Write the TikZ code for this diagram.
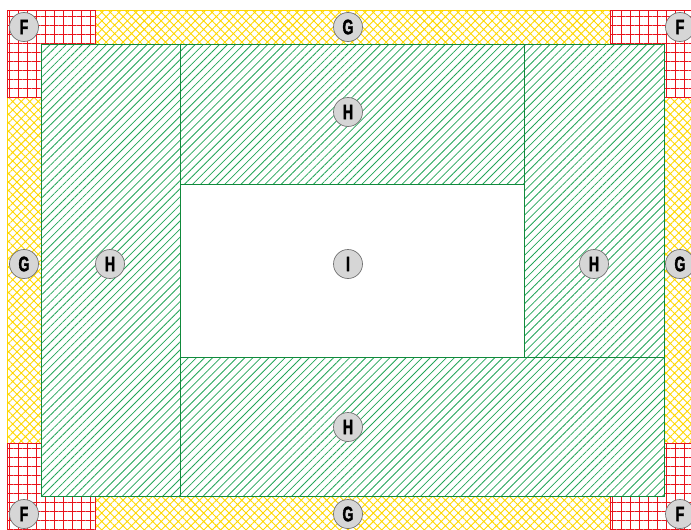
\documentclass[tikz,border=0pt]{standalone}
\usepackage{fontspec}
\newfontfamily\labfont[FakeStretch=0.68,BoldFont={Liberation Sans Bold},BoldFeatures={FakeStretch=0.68,FakeBold=1.5}]{Liberation Sans}
\usetikzlibrary{patterns.meta}
\definecolor{gline}{HTML}{22A458}
\definecolor{gedge}{HTML}{118A3C}
\definecolor{yline}{HTML}{FFD700}
\definecolor{rline}{HTML}{E8131B}
\tikzset{
  redarea/.style={draw=rline, line width=0.8pt, pattern={Hatch[angle=0,distance=9pt,line width=1pt]}, pattern color=rline},
  yelarea/.style={draw=yline, line width=0.8pt, pattern={Hatch[angle=45,distance=6pt,line width=0.9pt]}, pattern color=yline},
  grnarea/.style={draw=gedge, line width=0.9pt, pattern={Lines[angle=45,distance=5.7pt,line width=0.8pt]}, pattern color=gline},
  lab/.style={circle, draw=gray!90!black, fill=black!16, line width=0.7pt, minimum size=29pt, inner sep=0pt, font=\labfont\bfseries\fontsize{21}{21}\selectfont}
}
\begin{document}
\begin{tikzpicture}[x=1pt,y=-1pt]
\useasboundingbox (0,0) rectangle (691,530);
% yellow strips
\path[yelarea] (95,10) rectangle (610,44);
\path[yelarea] (95,496) rectangle (610,530);
\path[yelarea] (7,97) rectangle (41,443);
\path[yelarea] (664,97) rectangle (698,443);
% red corners
\path[redarea] (7,10) -- (95,10) -- (95,44) -- (41,44) -- (41,97) -- (7,97) -- cycle;
\path[redarea] (698,10) -- (610,10) -- (610,44) -- (664,44) -- (664,97) -- (698,97) -- cycle;
\path[redarea] (7,530) -- (95,530) -- (95,496) -- (41,496) -- (41,443) -- (7,443) -- cycle;
\path[redarea] (698,530) -- (610,530) -- (610,496) -- (664,496) -- (664,443) -- (698,443) -- cycle;
% green areas
\path[grnarea] (41,44) rectangle (180,496);
\path[grnarea] (180,44) rectangle (524,184);
\path[grnarea] (524,44) rectangle (664,357);
\path[grnarea] (180,357) rectangle (664,496);
% labels
\node[lab] (f1) at (24,27) {F};
\node[lab] (f2) at (680,27) {F};
\node[lab] (f3) at (24,514) {F};
\node[lab] (f4) at (680,514) {F};
\node[lab] (g1) at (348,27) {G};
\node[lab] (g2) at (24,264) {G};
\node[lab] (g3) at (680,264) {G};
\node[lab] (g4) at (348,514) {G};
\node[lab] (h1) at (348,112) {H};
\node[lab] (h2) at (110,264) {H};
\node[lab] (h3) at (594,264) {H};
\node[lab] (h4) at (348,427) {H};
\node[lab] (i1) at (348,264) {I};
\end{tikzpicture}
\end{document}
